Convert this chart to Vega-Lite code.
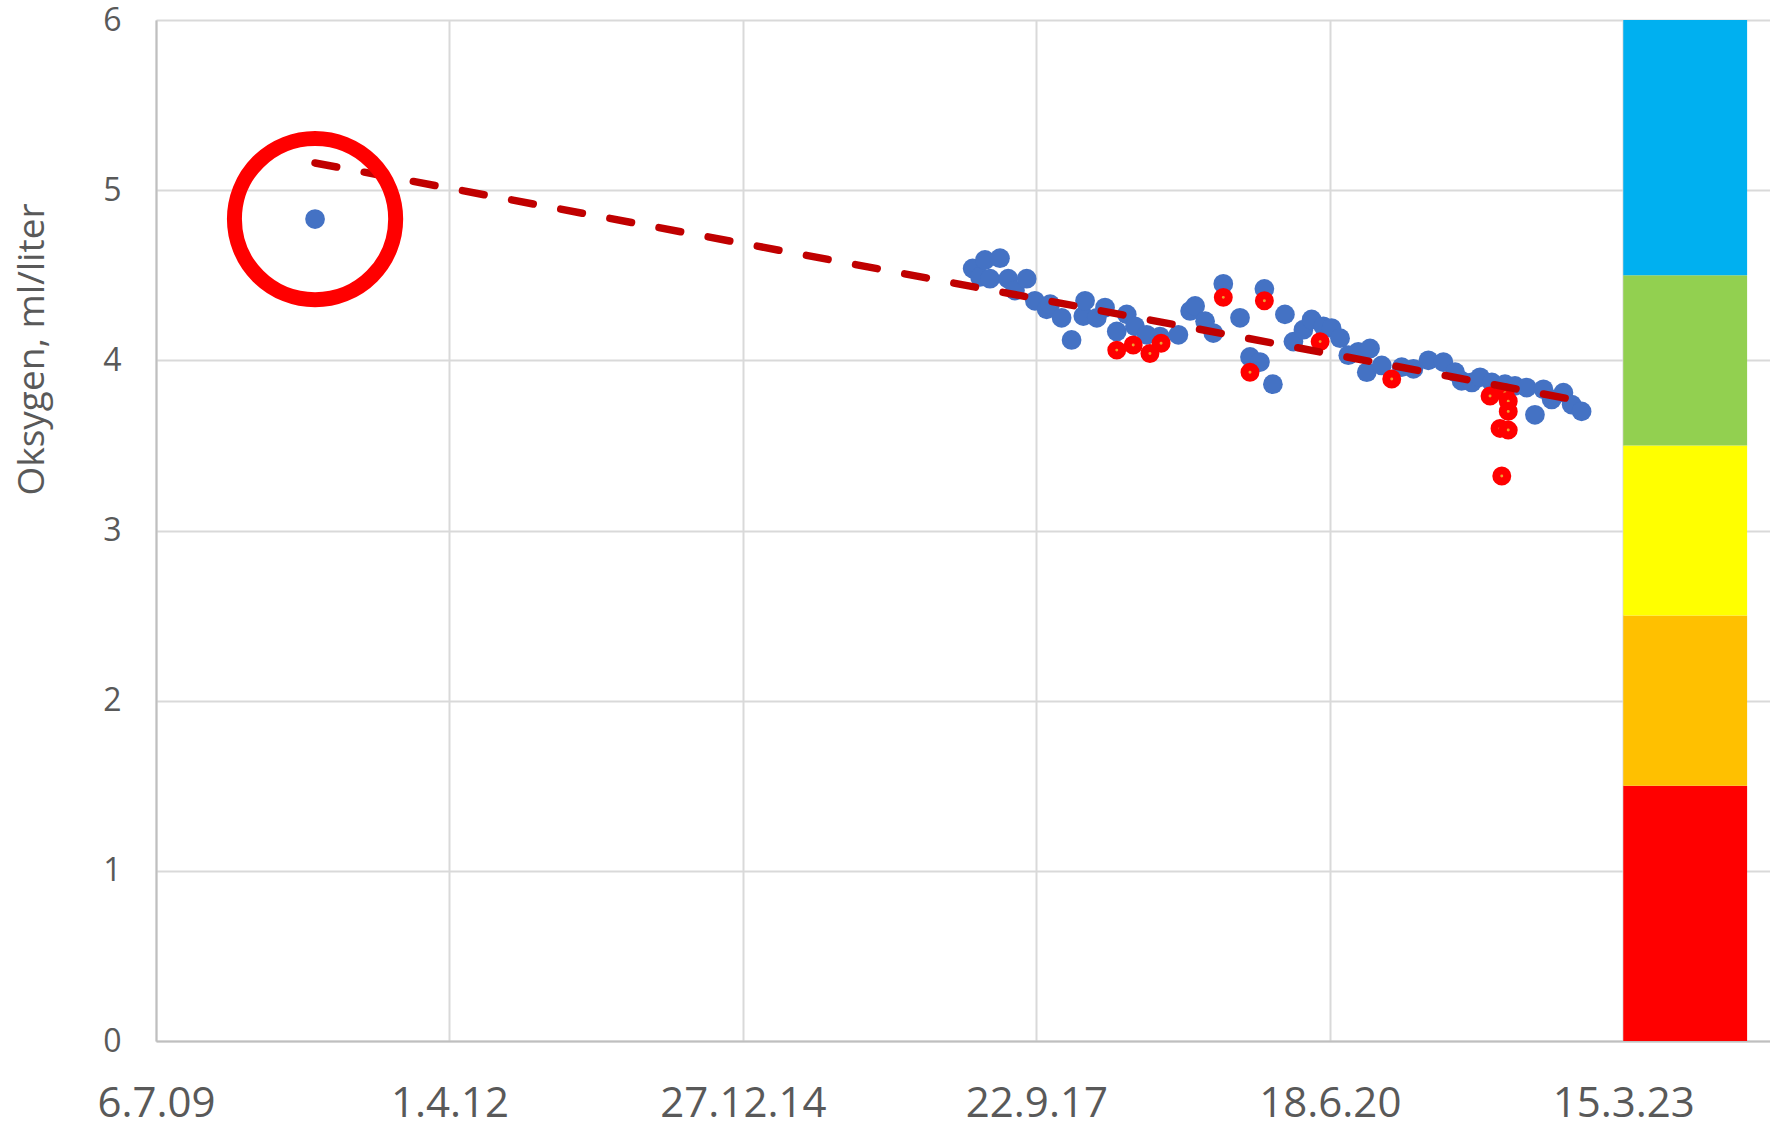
{
  "$schema": "https://vega.github.io/schema/vega-lite/v6.json",
  "width": 1614,
  "height": 1021,
  "autosize": {"type": "none"},
  "padding": {"left": 156, "top": 20, "right": 0, "bottom": 83},
  "background": "white",
  "config": {"view": {"stroke": null}, "font": "Open Sans"},
  "datasets": {
    "klasser": [
      {"dato": "2023-03-15", "til": "2024-05-10", "oksygen": 0, "hoy": 1.5, "klasse": "Svært dårlig"},
      {"dato": "2023-03-15", "til": "2024-05-10", "oksygen": 1.5, "hoy": 2.5, "klasse": "Dårlig"},
      {"dato": "2023-03-15", "til": "2024-05-10", "oksygen": 2.5, "hoy": 3.5, "klasse": "Moderat"},
      {"dato": "2023-03-15", "til": "2024-05-10", "oksygen": 3.5, "hoy": 4.5, "klasse": "God"},
      {"dato": "2023-03-15", "til": "2024-05-10", "oksygen": 4.5, "hoy": 6, "klasse": "Svært god"}
    ],
    "maalinger": [
      {"dato": "2010-12-30", "oksygen": 4.83, "serie": "Måling"},
      {"dato": "2017-02-17", "oksygen": 4.54, "serie": "Måling"},
      {"dato": "2017-03-14", "oksygen": 4.49, "serie": "Måling"},
      {"dato": "2017-03-31", "oksygen": 4.59, "serie": "Måling"},
      {"dato": "2017-04-17", "oksygen": 4.48, "serie": "Måling"},
      {"dato": "2017-05-21", "oksygen": 4.60, "serie": "Måling"},
      {"dato": "2017-06-18", "oksygen": 4.48, "serie": "Måling"},
      {"dato": "2017-07-11", "oksygen": 4.41, "serie": "Måling"},
      {"dato": "2017-08-20", "oksygen": 4.48, "serie": "Måling"},
      {"dato": "2017-09-17", "oksygen": 4.35, "serie": "Måling"},
      {"dato": "2017-10-27", "oksygen": 4.30, "serie": "Måling"},
      {"dato": "2017-11-08", "oksygen": 4.33, "serie": "Måling"},
      {"dato": "2017-12-17", "oksygen": 4.25, "serie": "Måling"},
      {"dato": "2018-01-20", "oksygen": 4.12, "serie": "Måling"},
      {"dato": "2018-03-01", "oksygen": 4.26, "serie": "Måling"},
      {"dato": "2018-03-07", "oksygen": 4.35, "serie": "Måling"},
      {"dato": "2018-04-16", "oksygen": 4.25, "serie": "Måling"},
      {"dato": "2018-05-14", "oksygen": 4.31, "serie": "Måling"},
      {"dato": "2018-06-23", "oksygen": 4.17, "serie": "Måling"},
      {"dato": "2018-07-27", "oksygen": 4.27, "serie": "Måling"},
      {"dato": "2018-08-24", "oksygen": 4.20, "serie": "Måling"},
      {"dato": "2018-10-03", "oksygen": 4.15, "serie": "Måling"},
      {"dato": "2018-11-17", "oksygen": 4.14, "serie": "Måling"},
      {"dato": "2019-01-19", "oksygen": 4.15, "serie": "Måling"},
      {"dato": "2019-02-28", "oksygen": 4.29, "serie": "Måling"},
      {"dato": "2019-03-17", "oksygen": 4.32, "serie": "Måling"},
      {"dato": "2019-04-20", "oksygen": 4.23, "serie": "Måling"},
      {"dato": "2019-05-18", "oksygen": 4.16, "serie": "Måling"},
      {"dato": "2019-06-21", "oksygen": 4.45, "serie": "Måling"},
      {"dato": "2019-08-17", "oksygen": 4.25, "serie": "Måling"},
      {"dato": "2019-09-20", "oksygen": 4.02, "serie": "Måling"},
      {"dato": "2019-10-24", "oksygen": 3.99, "serie": "Måling"},
      {"dato": "2019-11-08", "oksygen": 4.42, "serie": "Måling"},
      {"dato": "2019-12-07", "oksygen": 3.86, "serie": "Måling"},
      {"dato": "2020-01-17", "oksygen": 4.27, "serie": "Måling"},
      {"dato": "2020-02-15", "oksygen": 4.11, "serie": "Måling"},
      {"dato": "2020-03-20", "oksygen": 4.18, "serie": "Måling"},
      {"dato": "2020-04-17", "oksygen": 4.24, "serie": "Måling"},
      {"dato": "2020-05-27", "oksygen": 4.20, "serie": "Måling"},
      {"dato": "2020-06-24", "oksygen": 4.19, "serie": "Måling"},
      {"dato": "2020-07-23", "oksygen": 4.13, "serie": "Måling"},
      {"dato": "2020-08-20", "oksygen": 4.03, "serie": "Måling"},
      {"dato": "2020-09-23", "oksygen": 4.05, "serie": "Måling"},
      {"dato": "2020-10-22", "oksygen": 3.93, "serie": "Måling"},
      {"dato": "2020-11-02", "oksygen": 4.07, "serie": "Måling"},
      {"dato": "2020-12-12", "oksygen": 3.97, "serie": "Måling"},
      {"dato": "2021-02-18", "oksygen": 3.96, "serie": "Måling"},
      {"dato": "2021-03-30", "oksygen": 3.95, "serie": "Måling"},
      {"dato": "2021-05-20", "oksygen": 4.00, "serie": "Måling"},
      {"dato": "2021-07-10", "oksygen": 3.99, "serie": "Måling"},
      {"dato": "2021-08-19", "oksygen": 3.93, "serie": "Måling"},
      {"dato": "2021-09-10", "oksygen": 3.88, "serie": "Måling"},
      {"dato": "2021-10-15", "oksygen": 3.87, "serie": "Måling"},
      {"dato": "2021-11-12", "oksygen": 3.90, "serie": "Måling"},
      {"dato": "2021-12-22", "oksygen": 3.87, "serie": "Måling"},
      {"dato": "2022-02-05", "oksygen": 3.86, "serie": "Måling"},
      {"dato": "2022-03-11", "oksygen": 3.85, "serie": "Måling"},
      {"dato": "2022-04-20", "oksygen": 3.84, "serie": "Måling"},
      {"dato": "2022-05-18", "oksygen": 3.68, "serie": "Måling"},
      {"dato": "2022-06-16", "oksygen": 3.83, "serie": "Måling"},
      {"dato": "2022-07-14", "oksygen": 3.77, "serie": "Måling"},
      {"dato": "2022-08-23", "oksygen": 3.81, "serie": "Måling"},
      {"dato": "2022-09-20", "oksygen": 3.74, "serie": "Måling"},
      {"dato": "2022-10-24", "oksygen": 3.70, "serie": "Måling"},
      {"dato": "2018-06-23", "oksygen": 4.06, "serie": "Avvik"},
      {"dato": "2018-08-18", "oksygen": 4.09, "serie": "Avvik"},
      {"dato": "2018-10-14", "oksygen": 4.04, "serie": "Avvik"},
      {"dato": "2018-11-21", "oksygen": 4.10, "serie": "Avvik"},
      {"dato": "2019-06-21", "oksygen": 4.37, "serie": "Avvik"},
      {"dato": "2019-09-20", "oksygen": 3.93, "serie": "Avvik"},
      {"dato": "2019-11-08", "oksygen": 4.35, "serie": "Avvik"},
      {"dato": "2020-05-16", "oksygen": 4.11, "serie": "Avvik"},
      {"dato": "2021-01-15", "oksygen": 3.89, "serie": "Avvik"},
      {"dato": "2021-12-16", "oksygen": 3.79, "serie": "Avvik"},
      {"dato": "2022-01-19", "oksygen": 3.60, "serie": "Avvik"},
      {"dato": "2022-01-25", "oksygen": 3.32, "serie": "Avvik"},
      {"dato": "2022-02-05", "oksygen": 3.81, "serie": "Avvik"},
      {"dato": "2022-02-16", "oksygen": 3.76, "serie": "Avvik"},
      {"dato": "2022-02-16", "oksygen": 3.70, "serie": "Avvik"},
      {"dato": "2022-02-16", "oksygen": 3.59, "serie": "Avvik"}
    ],
    "trend": [
      {"dato": "2010-12-30", "oksygen": 5.16},
      {"dato": "2022-10-24", "oksygen": 3.76}
    ],
    "markering": [
      {"dato": "2010-12-30", "oksygen": 4.83}
    ]
  },
  "encoding": {
    "x": {
      "field": "dato",
      "type": "temporal",
      "scale": {
        "type": "utc",
        "domain": [
          {"year": 2009, "month": 7, "date": 6, "utc": true},
          {"year": 2024, "month": 7, "date": 27, "utc": true}
        ],
        "nice": false
      },
      "axis": {
        "title": null,
        "values": [
          {"year": 2009, "month": 7, "date": 6, "utc": true},
          {"year": 2012, "month": 4, "date": 1, "utc": true},
          {"year": 2014, "month": 12, "date": 27, "utc": true},
          {"year": 2017, "month": 9, "date": 22, "utc": true},
          {"year": 2020, "month": 6, "date": 18, "utc": true},
          {"year": 2023, "month": 3, "date": 15, "utc": true}
        ],
        "labelExpr": "utcFormat(datum.value, '%-d.%-m.%y')",
        "labelFont": "Open Sans",
        "labelFontSize": 42,
        "labelColor": "#595959",
        "labelPadding": 42,
        "labelFlush": false,
        "labelOverlap": false,
        "ticks": false,
        "domainColor": "#BFBFBF",
        "domainWidth": 2,
        "grid": true,
        "gridColor": "#D9D9D9",
        "gridWidth": 2
      }
    },
    "y": {
      "field": "oksygen",
      "type": "quantitative",
      "scale": {"domain": [0, 6], "nice": false, "zero": true},
      "axis": {
        "title": "Oksygen, ml/liter",
        "titleFont": "Open Sans",
        "titleFontSize": 37,
        "titleFontWeight": "normal",
        "titleColor": "#595959",
        "titleAngle": 270,
        "titleBaseline": "alphabetic",
        "titleAlign": "center",
        "titleX": -113,
        "titleY": 329,
        "values": [0, 1, 2, 3, 4, 5, 6],
        "labelFont": "Open Sans",
        "labelFontSize": 32,
        "labelColor": "#595959",
        "labelPadding": 35,
        "ticks": false,
        "domainColor": "#BFBFBF",
        "domainWidth": 2,
        "grid": true,
        "gridColor": "#D9D9D9",
        "gridWidth": 2
      }
    }
  },
  "layer": [
    {
      "data": {"name": "klasser"},
      "mark": {"type": "rect", "opacity": 1},
      "encoding": {
        "x2": {"field": "til"},
        "y2": {"field": "hoy"},
        "color": {
          "field": "klasse",
          "type": "nominal",
          "scale": {
            "domain": ["Svært dårlig", "Dårlig", "Moderat", "God", "Svært god"],
            "range": ["#FF0000", "#FFC000", "#FFFF00", "#92D050", "#00B0F0"]
          },
          "legend": null
        }
      }
    },
    {
      "data": {"name": "maalinger"},
      "transform": [{"filter": "datum.serie == 'Måling'"}],
      "mark": {"type": "point", "shape": "circle", "filled": true, "size": 390, "color": "#4472C4", "opacity": 1}
    },
    {
      "data": {"name": "maalinger"},
      "transform": [{"filter": "datum.serie == 'Avvik'"}],
      "mark": {"type": "point", "shape": "circle", "filled": true, "size": 120, "fill": "#F0A030", "stroke": "#FF0000", "strokeWidth": 8, "opacity": 1, "fillOpacity": 1, "strokeOpacity": 1}
    },
    {
      "data": {"name": "trend"},
      "mark": {"type": "line", "color": "#C00000", "strokeWidth": 7.5, "strokeDash": [22, 28], "strokeCap": "round"}
    },
    {
      "data": {"name": "markering"},
      "mark": {"type": "point", "shape": "circle", "filled": false, "size": 26000, "stroke": "#FF0000", "strokeWidth": 15, "opacity": 1, "strokeOpacity": 1}
    }
  ]
}
